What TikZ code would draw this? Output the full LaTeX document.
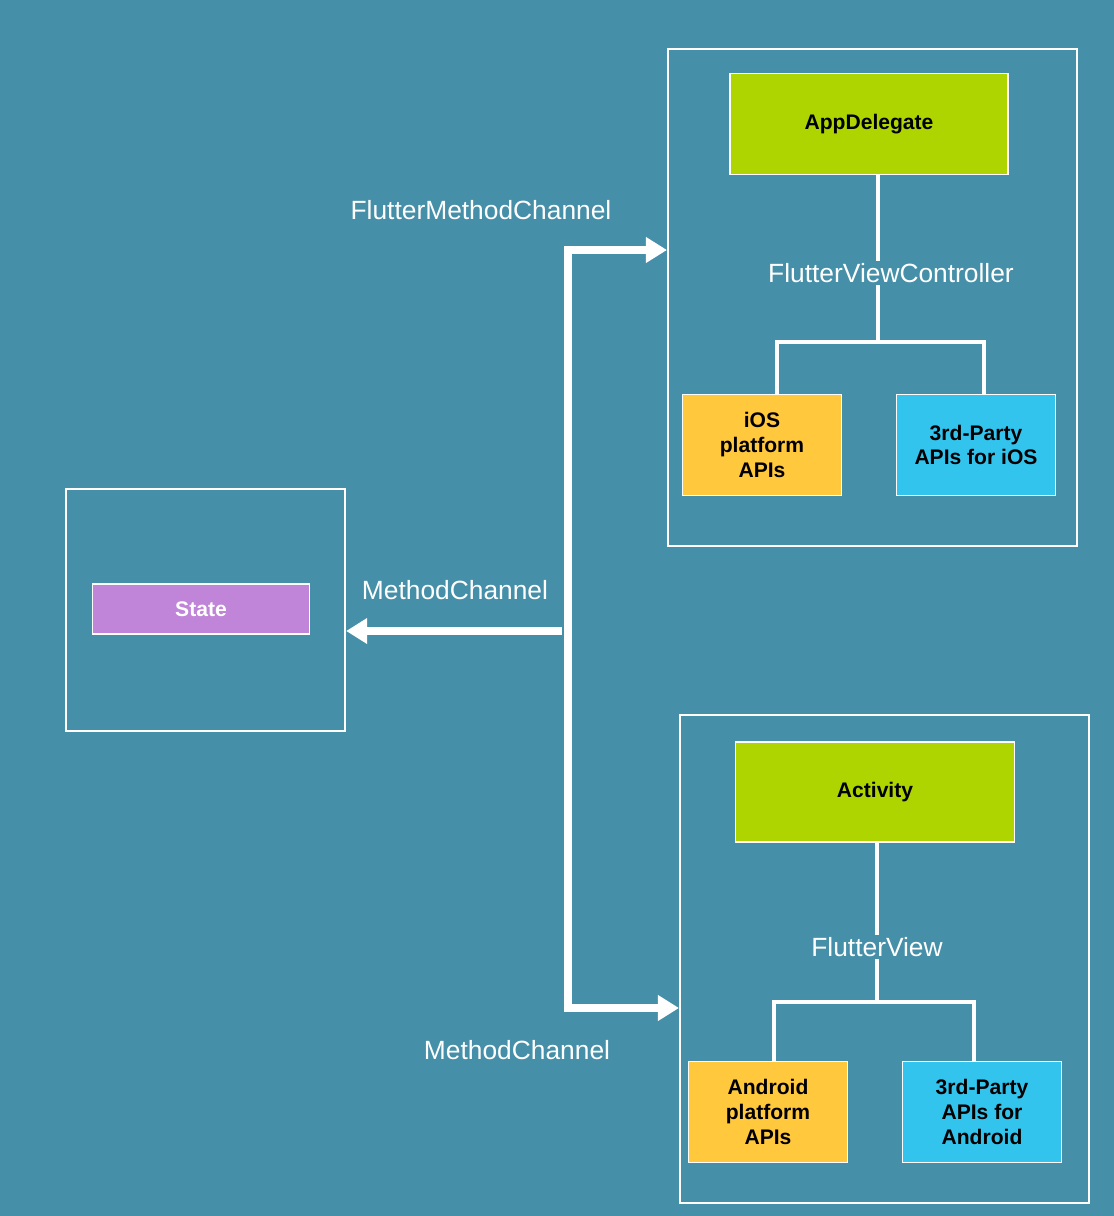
\documentclass[tikz,border=0pt]{standalone}
\usepackage{fontspec}
\setmainfont{Liberation Sans}
\usetikzlibrary{arrows.meta}
\definecolor{bg}{HTML}{458FA8}
\definecolor{lime}{HTML}{AED500}
\definecolor{orng}{HTML}{FFC83D}
\definecolor{cyn}{HTML}{33C4EE}
\definecolor{purp}{HTML}{C084D8}
\begin{document}
\begin{tikzpicture}[x=0.02cm,y=-0.02cm,
frame/.style={draw=white, line width=1.2pt},
box/.style={draw=white, line width=0.6pt, font=\fontsize{12}{14}\selectfont\bfseries, align=center},
lbl/.style={text=white, font=\fontsize{15}{18}\selectfont, inner sep=1pt},
link/.style={draw=white, line width=2pt},
bigarrow/.style={draw=white, line width=4pt, -{Triangle[length=12pt,width=14pt]}}
]
\fill[bg] (0,0) rectangle (1114,1216);
\useasboundingbox (0,0) rectangle (1114,1216);

% frames
\node[frame, minimum width=409*0.02cm, minimum height=497*0.02cm, anchor=north west] (ios) at (667,48) {};
\node[frame, minimum width=409*0.02cm, minimum height=488*0.02cm, anchor=north west] (android) at (679,714) {};
\node[frame, minimum width=279*0.02cm, minimum height=242*0.02cm, anchor=north west] (flutter) at (65,488) {};

% iOS side
\node[box, fill=lime, minimum width=278*0.02cm, minimum height=101*0.02cm] (appdel) at (869,124) {AppDelegate};
\node[lbl] (fvc) at (891,273) {FlutterViewController};
\node[box, fill=orng, minimum width=159*0.02cm, minimum height=101*0.02cm] (iosapi) at (762,445) {iOS\\platform\\APIs};
\node[box, fill=cyn, minimum width=159*0.02cm, minimum height=101*0.02cm] (iosthird) at (976,445) {3rd-Party\\APIs for iOS};
\coordinate (ij) at (878,342);
\draw[link] (appdel.south -| ij) -- (fvc.north -| ij);
\draw[link] (fvc.south -| ij) -- (ij);
\draw[link] (iosapi.north -| 777,0) |- (ij) -| (iosthird.north -| 984,0);

% Android side
\node[box, fill=lime, minimum width=279*0.02cm, minimum height=100*0.02cm] (activity) at (875,792) {Activity};
\node[lbl] (fv) at (877,947) {FlutterView};
\node[box, fill=orng, minimum width=159*0.02cm, minimum height=101*0.02cm] (andapi) at (768,1112) {Android\\platform\\APIs};
\node[box, fill=cyn, minimum width=159*0.02cm, minimum height=101*0.02cm] (andthird) at (982,1112) {3rd-Party\\APIs for\\Android};
\coordinate (aj) at (877,1002);
\draw[link] (activity.south -| aj) -- (fv.north -| aj);
\draw[link] (fv.south -| aj) -- (aj);
\draw[link] (andapi.north -| 774,0) |- (aj) -| (andthird.north -| 974,0);

% Flutter side
\node[box, fill=purp, text=white, minimum width=217*0.02cm, minimum height=50*0.02cm] (state) at (201,609) {State};

% channels
\coordinate (top) at (568,250);
\coordinate (bot) at (568,1008);
\coordinate (mid) at (562,631);
\draw[bigarrow] (bot) -- (top) -- (ios.west |- top);
\draw[bigarrow] (top) -- (bot) -- (android.west |- bot);
\draw[bigarrow] (mid) -- (flutter.east |- mid);

\node[lbl] (l1) at (481,210) {FlutterMethodChannel};
\node[lbl] (l2) at (455,590) {MethodChannel};
\node[lbl] (l3) at (517,1050) {MethodChannel};
\end{tikzpicture}
\end{document}
